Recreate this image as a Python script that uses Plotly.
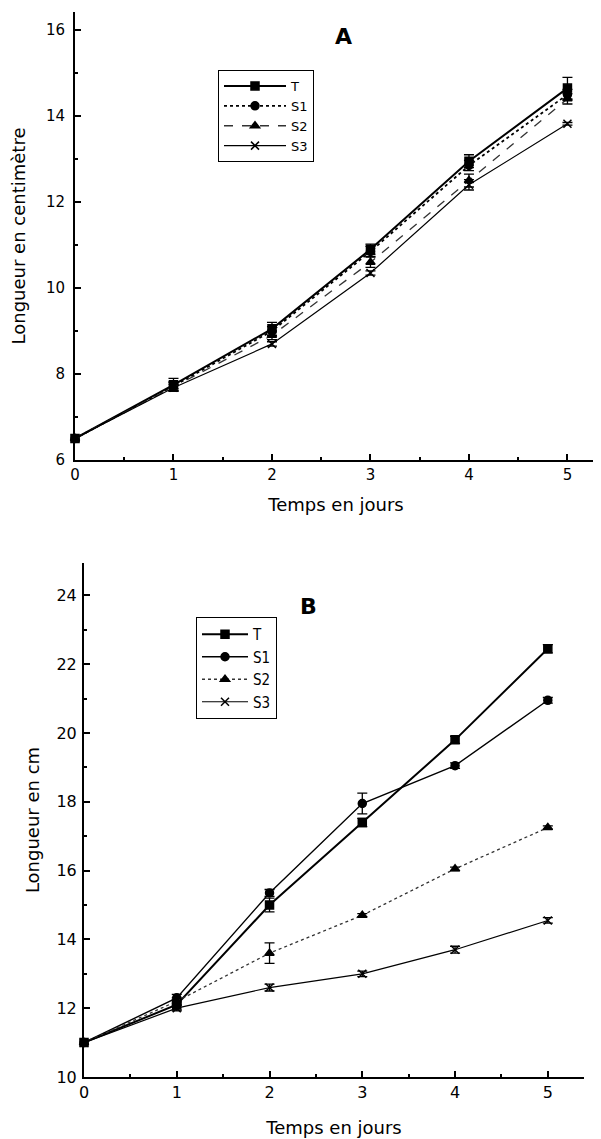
import plotly.graph_objects as go

days = [0, 1, 2, 3, 4, 5]
series_names = ["T", "S1", "S2", "S3"]

# Panel A (Longueur en centimètre)
a_T = [6.5, 7.75, 9.05, 10.9, 12.95, 14.65]
a_S1 = [6.5, 7.72, 9.0, 10.85, 12.85, 14.5]
a_S2 = [6.5, 7.7, 8.9, 10.6, 12.5, 14.4]
a_S3 = [6.5, 7.68, 8.7, 10.35, 12.4, 13.82]
a_T_err = [0.05, 0.15, 0.15, 0.12, 0.15, 0.25]
a_S1_err = [0.05, 0.1, 0.1, 0.12, 0.12, 0.12]
a_S2_err = [0.05, 0.1, 0.1, 0.12, 0.15, 0.12]
a_S3_err = [0.05, 0.08, 0.05, 0.05, 0.12, 0.03]

# Panel B (Longueur en cm)
b_T = [11.0, 12.1, 15.0, 17.4, 19.8, 22.45]
b_S1 = [11.0, 12.3, 15.35, 17.95, 19.05, 20.95]
b_S2 = [11.0, 12.2, 13.6, 14.7, 16.05, 17.25]
b_S3 = [11.0, 12.0, 12.6, 13.0, 13.7, 14.55]
b_T_err = [0.05, 0.15, 0.2, 0.12, 0.1, 0.12]
b_S1_err = [0.05, 0.1, 0.1, 0.3, 0.08, 0.08]
b_S2_err = [0.05, 0.1, 0.3, 0.05, 0.05, 0.05]
b_S3_err = [0.05, 0.08, 0.1, 0.08, 0.1, 0.08]

styles = {
    "T": dict(symbol="square", dash="solid", width=2.0, size=8, lc="black"),
    "S1": dict(symbol="circle", dash="dot", width=1.8, size=8, lc="black"),
    "S2": dict(symbol="triangle-up", dash="dash", width=1.3, size=8, lc="#333333"),
    "S3": dict(symbol="x-thin-open", dash="solid", width=1.2, size=8, lc="black"),
}
stylesB = dict(styles)
stylesB["S1"] = dict(symbol="circle", dash="solid", width=1.4, size=8, lc="black")
stylesB["S2"] = dict(symbol="triangle-up", dash="dot", width=1.3, size=8, lc="#333333")

FONT = "DejaVu Sans"
FONTC = "DejaVu Sans Condensed"
fig = go.Figure()

def add(ys, errs, name, st, xa, ya, legend):
    fig.add_trace(go.Scatter(
        x=days, y=ys, name=name, mode="lines+markers",
        xaxis=xa, yaxis=ya, legend=legend, cliponaxis=False,
        line=dict(color=st["lc"], width=st["width"], dash=st["dash"]),
        marker=dict(symbol=st["symbol"], size=st["size"], color="black",
                    line=dict(color="black", width=1.5)),
        error_y=dict(type="data", array=errs, visible=True, color="black",
                     thickness=1.3, width=5),
    ))

for ys, errs, nm in zip([a_T, a_S1, a_S2, a_S3], [a_T_err, a_S1_err, a_S2_err, a_S3_err], series_names):
    add(ys, errs, nm, styles[nm], "x", "y", "legend")
for ys, errs, nm in zip([b_T, b_S1, b_S2, b_S3], [b_T_err, b_S1_err, b_S2_err, b_S3_err], series_names):
    add(ys, errs, nm, stylesB[nm], "x2", "y2", "legend2")

# page body has an 8px margin
OFF = 8
W, H = 601 - OFF, 1139 - OFF
def px(v):
    return (v - OFF) / W
def py(v):
    return 1 - (v - OFF) / H

def ax(size, fam, standoff=0):
    return dict(showline=True, linecolor="black", linewidth=2, ticks="inside",
                ticklen=6, tickwidth=1.5, tickcolor="black", showgrid=False,
                zeroline=False, tickfont=dict(family=fam, size=size, color="black"),
                mirror=False, automargin=False, ticklabelstandoff=standoff)

fig.update_layout(
    width=W, height=H, margin=dict(l=0, r=0, t=0, b=0),
    paper_bgcolor="white", plot_bgcolor="white",
    font=dict(family=FONT, color="black"),
    xaxis=dict(domain=[px(75), px(597)], anchor="y", range=[0, 5.3], dtick=1,
               minor=dict(ticks="inside", ticklen=3, dtick=0.5, tickcolor="black"),
               title=dict(text="Temps en jours", font=dict(family=FONT, size=18), standoff=15),
               **ax(15, FONT)),
    yaxis=dict(domain=[py(460), py(12)], anchor="x", range=[6, 16.42], dtick=2,
               minor=dict(ticks="inside", ticklen=3, dtick=1, tickcolor="black"),
               title=dict(text="Longueur en centimètre", font=dict(family=FONT, size=18), standoff=18),
               **ax(15, FONT, 5)),
    xaxis2=dict(domain=[px(84), px(584)], anchor="y2", range=[0, 5.39], dtick=1,
                minor=dict(ticks="inside", ticklen=3, dtick=0.5, tickcolor="black"),
                title=dict(text="Temps en jours", font=dict(family=FONT, size=18), standoff=20),
                **ax(16, FONT)),
    yaxis2=dict(domain=[py(1077), py(563)], anchor="x2", range=[10, 24.94], dtick=2,
                minor=dict(ticks="inside", ticklen=3, dtick=1, tickcolor="black"),
                title=dict(text="Longueur en cm", font=dict(family=FONT, size=18), standoff=12),
                **ax(16, FONT, 2)),
    legend=dict(x=px(218), y=py(70), xanchor="left", yanchor="top",
                bordercolor="black", borderwidth=1, bgcolor="white",
                font=dict(family=FONT, size=13), itemwidth=62, tracegroupgap=0),
    legend2=dict(x=px(196), y=py(617), xanchor="left", yanchor="top",
                 bordercolor="black", borderwidth=1, bgcolor="white",
                 font=dict(family=FONTC, size=15), itemwidth=46, tracegroupgap=0),
    showlegend=True,
    annotations=[
        dict(text="<b>A</b>", x=px(343), y=py(36), xref="paper", yref="paper",
             xanchor="center", yanchor="middle",
             showarrow=False, font=dict(family=FONT, size=22)),
        dict(text="<b>B</b>", x=px(308), y=py(606), xref="paper", yref="paper",
             xanchor="center", yanchor="middle",
             showarrow=False, font=dict(family=FONT, size=22)),
    ],
)

fig.write_html("out.html")
